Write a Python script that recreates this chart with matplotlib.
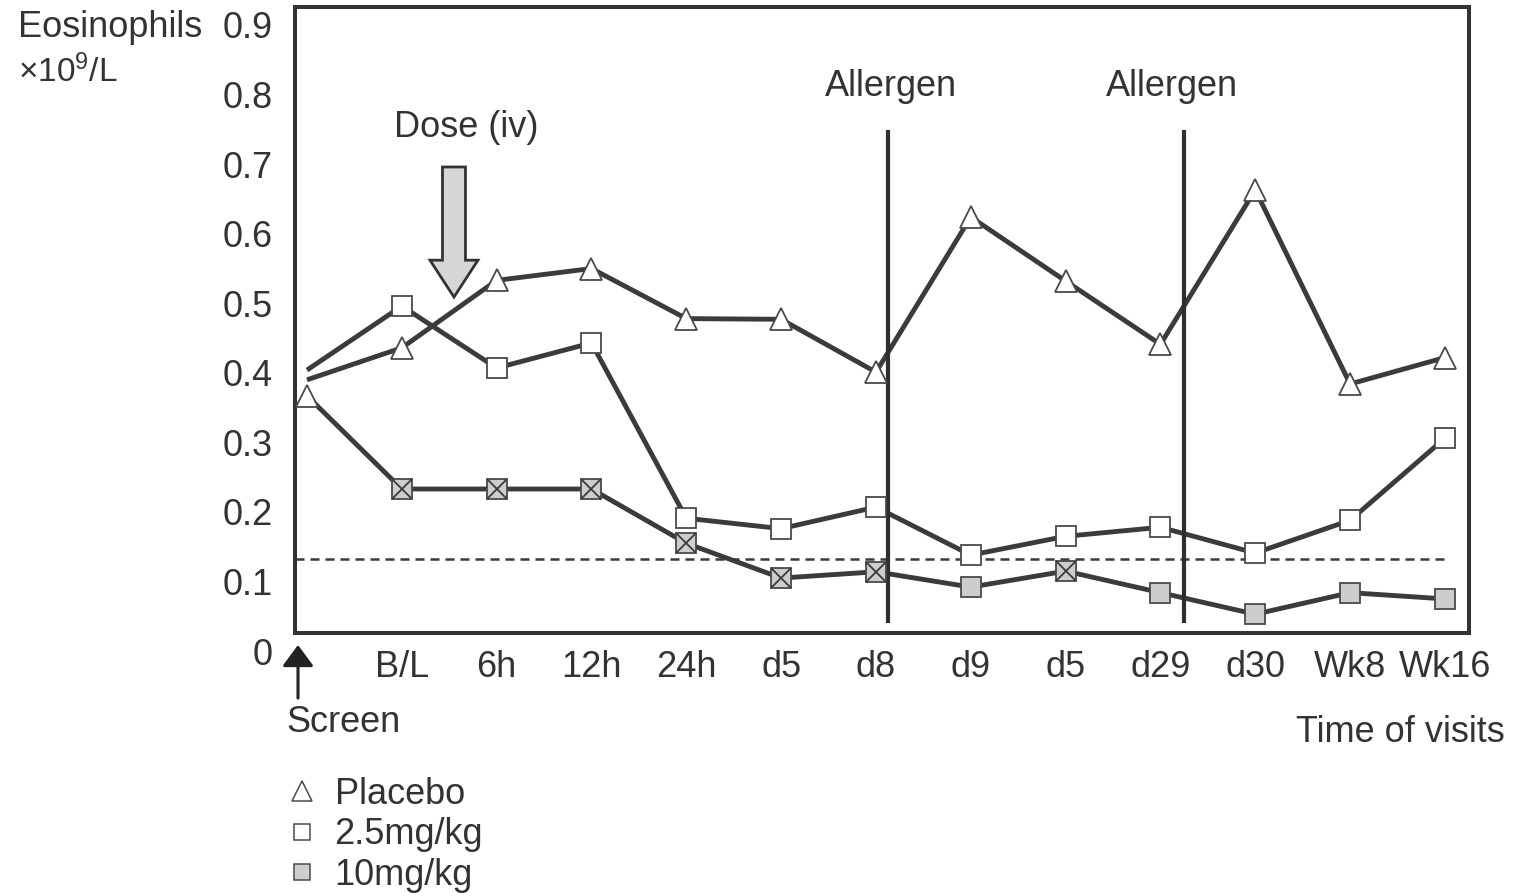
import numpy as np
import matplotlib.pyplot as plt
from matplotlib.lines import Line2D
from matplotlib.patches import FancyArrow
from matplotlib import transforms

plt.rcParams['font.family'] = ['Liberation Sans', 'DejaVu Sans']
plt.rcParams['mathtext.fontset'] = 'custom'
plt.rcParams['mathtext.rm'] = 'Liberation Sans'
plt.rcParams['mathtext.it'] = 'Liberation Sans'

# --- data: eosinophil counts (x10^9/L) per visit ---
visits = ['Screen', 'B/L', '6h', '12h', '24h', 'd5', 'd8', 'd9', 'd5', 'd29', 'd30', 'Wk8', 'Wk16']
placebo = [0.364, 0.410, 0.507, 0.524, 0.452, 0.451, 0.375, 0.598, 0.506, 0.415, 0.637, 0.358, 0.396]
dose_2_5 = [0.378, 0.470, 0.381, 0.417, 0.165, 0.150, 0.181, 0.112, 0.139, 0.152, 0.115, 0.162, 0.280]
dose_10 = [0.341, 0.207, 0.207, 0.207, 0.129, 0.079, 0.088, 0.066, 0.089, 0.058, 0.027, 0.058, 0.049]
# symbol used for each 10mg/kg point: triangle, crossed box or shaded box
dose_10_symbol = ['tri', 'cross', 'cross', 'cross', 'cross', 'cross', 'cross',
                  'fill', 'cross', 'fill', 'fill', 'fill', 'fill']
normal_limit = 0.106
y_ticks = [0, 0.1, 0.2, 0.3, 0.4, 0.5, 0.6, 0.7, 0.8, 0.9]
y_tick_labels = ['0', '0.1', '0.2', '0.3', '0.4', '0.5', '0.6', '0.7', '0.8', '0.9']

LINE = '#3b3b3b'
EDGE = '#4a4a4a'
TEXT = '#333333'
SHADE = '#cdcdcd'
FS = 26

W, H = 1515, 896
fig = plt.figure(figsize=(W / 100, H / 100), dpi=100)
ax = fig.add_axes([295 / W, 1 - 633 / H, (1469 - 295) / W, (633 - 7) / H])

x = np.arange(len(visits))

# connecting lines
for series in (placebo, dose_2_5, dose_10):
    ax.plot(x, series, color=LINE, lw=3.5, zorder=3, solid_capstyle='butt')

# markers
ax.plot(x[1:], placebo[1:], ls='none', marker='^', ms=16, mfc='white',
        mec=EDGE, mew=1.3, zorder=5)
ax.plot(x[1:], dose_2_5[1:], ls='none', marker='s', ms=14.5, mfc='white',
        mec=EDGE, mew=1.3, zorder=5)

d10 = np.array(dose_10)
sym = np.array(dose_10_symbol)
ax.plot(x[sym == 'tri'], d10[sym == 'tri'], ls='none', marker='^', ms=16,
        mfc='white', mec=EDGE, mew=1.3, zorder=5)
ax.plot(x[sym != 'tri'], d10[sym != 'tri'], ls='none', marker='s', ms=14.5,
        mfc=SHADE, mec=EDGE, mew=1.3, zorder=5)
ax.plot(x[sym == 'cross'], d10[sym == 'cross'], ls='none', marker='x', ms=14.5,
        mec='#3a3a3a', mew=1.3, zorder=6)

# upper limit of normal
ax.hlines(normal_limit, -0.13, 12.03, colors=LINE, lw=1.8,
          linestyles=[(0, (3.6, 2.4))], zorder=2)

# allergen challenges
for xa, xt in [(6.127, 6.16), (9.248, 9.12)]:
    ax.vlines(xa, 0.014, 0.723, colors='#2e2e2e', lw=3.0, zorder=4)
    ax.text(xt, 0.785, 'Allergen', ha='center', va='center', fontsize=FS, color=TEXT)

# dosing arrow
ax.add_patch(FancyArrow(1.55, 0.670, 0, -0.187, width=0.2425, head_width=0.506,
                        head_length=0.053, length_includes_head=True,
                        fc='#d6d6d6', ec='#333333', lw=2.0, zorder=4))
ax.text(1.68, 0.727, 'Dose (iv)', ha='center', va='center', fontsize=FS, color=TEXT)

# axes
ax.set_xlim(-0.1265, 12.254)
ax.set_ylim(0, 0.9)
ax.set_xticks(x)
ax.set_xticklabels([''] + visits[1:])
ax.set_yticks(y_ticks)
ax.set_yticklabels(y_tick_labels)
ax.tick_params(length=0, labelsize=FS, labelcolor=TEXT)
ax.tick_params(axis='x', pad=12)
ax.tick_params(axis='y', pad=16)
for s in ax.spines.values():
    s.set_linewidth(2.9)
    s.set_color('#333333')

# y labels sit a little below their gridline values
shift = transforms.ScaledTranslation(0, -18 / 100, fig.dpi_scale_trans)
for t in ax.yaxis.get_major_ticks():
    t.label1.set_transform(t.label1.get_transform() + shift)

# screening visit marker
ax.annotate('', xy=(298, H - 645), xytext=(298, H - 698), xycoords='figure pixels',
            arrowprops=dict(arrowstyle='-|>,head_length=0.5,head_width=0.37',
                            mutation_scale=26, lw=2.2, color='#222222',
                            shrinkA=0, shrinkB=0))
fig.text(286 / W, 1 - 722 / H, 'Screen', ha='left', va='center', fontsize=FS, color=TEXT)

fig.text(18 / W, 1 - 37 / H, 'Eosinophils', ha='left', va='baseline', fontsize=FS, color=TEXT)
fig.text(18 / W, 1 - 82 / H, '×$10^9$/L', ha='left', va='baseline', fontsize=24, color=TEXT)
fig.text(1505 / W, 1 - 732 / H, 'Time of visits', ha='right', va='center', fontsize=FS, color=TEXT)

handles = [
    Line2D([], [], ls='none', marker='^', ms=14.5, mfc='white', mec=EDGE, mew=1.1),
    Line2D([], [], ls='none', marker='s', ms=12, mfc='white', mec=EDGE, mew=1.1),
    Line2D([], [], ls='none', marker='s', ms=12, mfc=SHADE, mec=EDGE, mew=1.1),
]
fig.legend(handles, ['Placebo', '2.5mg/kg', '10mg/kg'], loc='upper left',
           bbox_to_anchor=(284 / W, 1 - 777 / H), bbox_transform=fig.transFigure,
           frameon=False, fontsize=FS, labelcolor=TEXT, handlelength=1.0,
           handletextpad=0.4, labelspacing=0.15, borderpad=0, borderaxespad=0)

fig.savefig('out.png', dpi=100)
